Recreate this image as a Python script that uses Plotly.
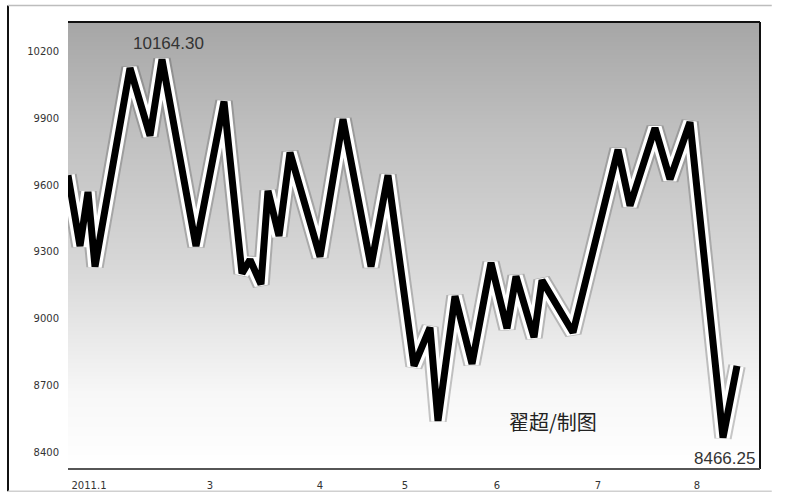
import numpy as np
import plotly.graph_objects as go

# Index closing levels, 2011 (x = trading-day position, y = index level)
day = [0, 12, 20, 27, 62, 82, 94, 128, 156, 174, 182, 193, 200, 211, 222, 252,
       275, 303, 320, 346, 362, 370, 387, 404, 423, 439, 448, 466, 474, 505,
       550, 562, 587, 602, 622, 655, 669]
level = [9644, 9326, 9569, 9234, 10125, 9821, 10164.30, 9326, 9975, 9203, 9265,
         9154, 9574, 9371, 9746, 9278, 9896, 9234, 9644, 8788, 8960, 8541, 9101,
         8797, 9251, 8956, 9190, 8916, 9172, 8938, 9759, 9507, 9856, 9626, 9882,
         8466.25, 8788]

month_pos = [21, 142, 252, 337, 429, 530, 629]
month_text = ["2011.1", "3", "4", "5", "6", "7", "8"]
y_ticks = [10200, 9900, 9600, 9300, 9000, 8700, 8400]

x_range = [0, 692]
y_range = [8325, 10332]

fig = go.Figure()

# vertical grey-to-white backdrop inside the plot area
bg_y = np.linspace(y_range[0], y_range[1], 60)
fig.add_trace(go.Heatmap(
    x=x_range, y=bg_y, z=[[v, v] for v in bg_y],
    zmin=y_range[0], zmax=y_range[1], zsmooth="best", showscale=False,
    hoverinfo="skip",
    colorscale=[[0.0, "#ffffff"], [0.17, "#f7f7f7"], [0.45, "#d8d8d8"],
                [0.75, "#c0c0c0"], [1.0, "#a6a6a6"]],
))

# soft shadow, white halo and black core of the index line
fig.add_trace(go.Scatter(x=day, y=level, mode="lines", hoverinfo="skip",
                         line=dict(color="rgba(60,60,60,0.28)", width=17.5)))
fig.add_trace(go.Scatter(x=day, y=level, mode="lines", hoverinfo="skip",
                         line=dict(color="#ffffff", width=13.5)))
fig.add_trace(go.Scatter(x=day, y=level, mode="lines",
                         line=dict(color="#000000", width=7)))

i_hi = int(np.argmax(level))
i_lo = int(np.argmin(level))
fig.add_annotation(x=day[i_hi], y=level[i_hi], text=f"{level[i_hi]:.2f}",
                   showarrow=False, xshift=6, yshift=16,
                   font=dict(family="Liberation Sans", size=17, color="#333333"))
fig.add_annotation(x=day[i_lo], y=level[i_lo], text=f"{level[i_lo]:.2f}",
                   showarrow=False, xshift=1, yshift=-21,
                   font=dict(family="Liberation Sans", size=17, color="#333333"))
fig.add_annotation(xref="paper", yref="paper", x=0.767, y=0.07,
                   text="翟超/制图", showarrow=False,
                   font=dict(family="Noto Sans CJK SC", size=20, color="#222222"))

# plot frame and outer border
line_dark = dict(color="#111111", width=2)
fig.add_shape(type="line", xref="paper", yref="paper", x0=0, x1=1, y0=1, y1=1, line=line_dark)
fig.add_shape(type="line", xref="paper", yref="paper", x0=1, x1=1, y0=0, y1=1, line=line_dark)
fig.add_shape(type="line", xref="paper", yref="paper", x0=0, x1=1, y0=0, y1=0,
              line=dict(color="#555555", width=2))
fig.add_shape(type="line", xref="paper", yref="paper", x0=-0.0867, x1=-0.0867,
              y0=-0.05, y1=1.037, line=dict(color="#111111", width=2))
fig.add_shape(type="line", xref="paper", yref="paper", x0=-0.0867, x1=1.017,
              y0=1.037, y1=1.037, line=dict(color="#bdbdbd", width=1.5))
fig.add_shape(type="line", xref="paper", yref="paper", x0=-0.0867, x1=1.017,
              y0=-0.05, y1=-0.05, line=dict(color="#d0d0d0", width=1.5))

fig.update_layout(
    width=789, height=503,
    margin=dict(l=68, r=29, t=22, b=26),
    paper_bgcolor="#ffffff", plot_bgcolor="#ffffff",
    showlegend=False,
    xaxis=dict(range=x_range, tickvals=month_pos, ticktext=month_text,
               showgrid=False, zeroline=False, ticks="", ticklabelstandoff=9,
               tickfont=dict(family="DejaVu Sans", size=10, color="#333333")),
    yaxis=dict(range=y_range, tickvals=y_ticks, ticktext=[str(v) for v in y_ticks],
               showgrid=False, zeroline=False, ticks="", ticklabelstandoff=8,
               tickfont=dict(family="DejaVu Sans", size=10, color="#333333")),
)

fig.write_html("out.html")
